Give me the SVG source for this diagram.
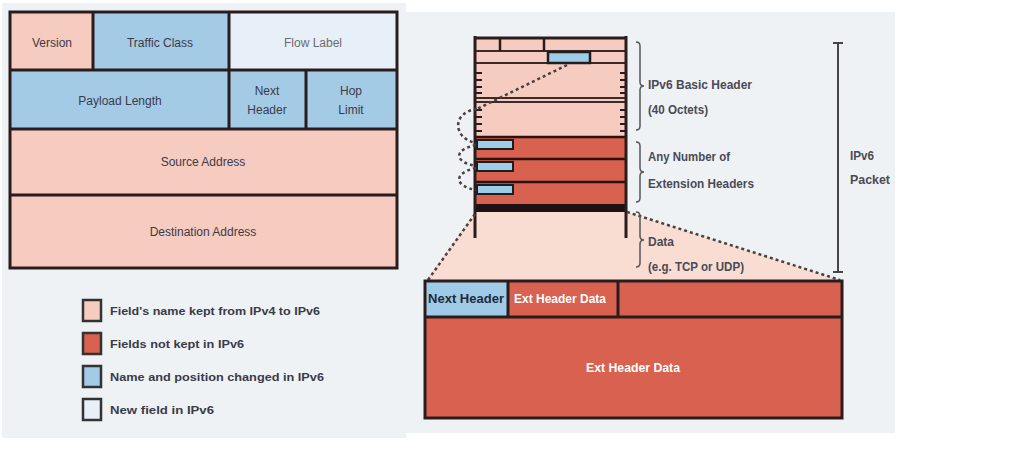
<svg xmlns="http://www.w3.org/2000/svg" width="1032" height="450" viewBox="0 0 1032 450">
<defs>
<style>
.pk{fill:#f6cbc0}
.bl{fill:#a3cbe6}
.lt{fill:#e7f0f8}
.rd{fill:#d9614f}
.ln{stroke:#2a1c1c;stroke-width:3;fill:none}
.t{font-family:"Liberation Sans",Arial,sans-serif;font-size:12px;fill:#3d3a48;text-anchor:middle}
.lg{font-family:"Liberation Sans",Arial,sans-serif;font-size:10.5px;font-weight:bold;fill:#3a3a48}
.rt{font-family:"Liberation Sans",Arial,sans-serif;font-size:12px;font-weight:bold;fill:#4a4a55}
.dot{stroke:#4a4040;stroke-width:2.5;stroke-dasharray:3 3;fill:none}
.br{stroke:#555;stroke-width:1.5;fill:none}
.sq{stroke:#333;stroke-width:2.5}
</style>
</defs>
<rect width="1032" height="450" fill="#ffffff"/>
<rect x="2" y="3" width="404" height="435" fill="#eef2f5"/>
<rect x="406" y="12" width="489" height="421" fill="#eef2f5"/>

<g id="ipv6-header">
  <rect class="pk" x="10" y="12" width="83" height="58"/>
  <rect class="bl" x="93" y="12" width="136" height="58"/>
  <rect class="lt" x="229" y="12" width="168" height="58"/>
  <rect class="bl" x="10" y="70" width="219" height="59"/>
  <rect class="bl" x="229" y="70" width="77" height="59"/>
  <rect class="bl" x="306" y="70" width="91" height="59"/>
  <rect class="pk" x="10" y="129" width="387" height="66"/>
  <rect class="pk" x="10" y="195" width="387" height="73"/>
  <path class="ln" d="M93 12V70M229 12V129M306 70V129M10 70H397M10 129H397M10 195H397"/>
  <rect class="ln" x="10" y="12" width="387" height="256"/>
  <text class="t" x="52" y="47">Version</text>
  <text class="t" x="160" y="47">Traffic Class</text>
  <text class="t" x="313" y="47" style="fill:#6a6a74">Flow Label</text>
  <text class="t" x="120" y="105">Payload Length</text>
  <text class="t" x="267" y="95">Next</text>
  <text class="t" x="267" y="114">Header</text>
  <text class="t" x="351" y="95">Hop</text>
  <text class="t" x="351" y="114">Limit</text>
  <text class="t" x="203" y="166">Source Address</text>
  <text class="t" x="203" y="236">Destination Address</text>
</g>

<g id="legend">
  <rect class="pk sq" x="83" y="300" width="18" height="21"/>
  <rect class="rd sq" x="83" y="333" width="18" height="21"/>
  <rect class="bl sq" x="83" y="366" width="18" height="21"/>
  <rect class="lt sq" x="83" y="399" width="18" height="21"/>
  <text class="lg" x="110" y="315" textLength="210" lengthAdjust="spacingAndGlyphs">Field's name kept from IPv4 to IPv6</text>
  <text class="lg" x="110" y="348" textLength="134" lengthAdjust="spacingAndGlyphs">Fields not kept in IPv6</text>
  <text class="lg" x="110" y="381" textLength="214" lengthAdjust="spacingAndGlyphs">Name and position changed in IPv6</text>
  <text class="lg" x="110" y="414" textLength="104" lengthAdjust="spacingAndGlyphs">New field in IPv6</text>
</g>

<g id="data-region">
  <polygon points="475,212 627,212 840,280 426,280" fill="#f9dcd2"/>
  <rect x="475" y="212" width="152" height="68" fill="#f9dcd2"/>
</g>

<g id="packet-stack">
  <rect class="pk" x="475" y="37" width="151" height="100"/>
  <rect class="rd" x="475" y="137" width="151" height="67"/>
  <rect x="475" y="204" width="151" height="8" fill="#1e1212"/>
  <path d="M475 51H626M475 63H626M475 98H626M475 102H626" stroke="#3a2a2a" stroke-width="2" fill="none"/>
  <path d="M500 37V51M544 37V51" stroke="#2a1c1c" stroke-width="2.5"/>
  <rect x="548" y="52" width="42" height="11" fill="#9fcde8" stroke="#1e1e1e" stroke-width="2.5"/>
  <path d="M475 137H626M475 159H626M475 182H626" stroke="#2a1212" stroke-width="2.5"/>
  <path d="M476 73h6M476 80h6M476 87h6M476 93h6M476 110h6M476 117h6M476 124h6M476 131h6M620 73h6M620 80h6M620 87h6M620 93h6M620 110h6M620 117h6M620 124h6M620 131h6" stroke="#2a1c1c" stroke-width="2"/>
  <rect x="477" y="140" width="36" height="9" fill="#9fcde8" stroke="#1e1e1e" stroke-width="2"/>
  <rect x="477" y="162" width="36" height="9" fill="#9fcde8" stroke="#1e1e1e" stroke-width="2"/>
  <rect x="477" y="185" width="36" height="9" fill="#9fcde8" stroke="#1e1e1e" stroke-width="2"/>
  <path d="M475 36V238M626 36V238M473.5 38H627.5" stroke="#2a1c1c" stroke-width="3" fill="none"/>
</g>

<g id="connectors">
  <path class="dot" d="M567 65L477 109"/>
  <path class="dot" d="M477 109C452 112 452 138 476 143"/>
  <path class="dot" d="M476 145C453 150 454 162 476 166"/>
  <path class="dot" d="M476 168C453 173 454 186 476 190"/>
  <path class="dot" d="M475 214L428 280"/>
  <path class="dot" d="M627 212L840 280"/>
</g>

<g id="labels">
  <path class="br" d="M636 42Q640 42 640 46V82Q640 86 644 86Q640 86 640 90V126Q640 130 636 130"/>
  <path class="br" d="M636 142Q640 142 640 146V168Q640 172 644 172Q640 172 640 176V198Q640 202 636 202"/>
  <path class="br" d="M636 212Q640 212 640 216V236Q640 240 644 240Q640 240 640 244V263Q640 267 636 267"/>
  <text class="rt" x="648" y="89" textLength="104" lengthAdjust="spacingAndGlyphs">IPv6 Basic Header</text>
  <text class="rt" x="648" y="114" textLength="60" lengthAdjust="spacingAndGlyphs">(40 Octets)</text>
  <text class="rt" x="648" y="161" textLength="82" lengthAdjust="spacingAndGlyphs">Any Number of</text>
  <text class="rt" x="648" y="188" textLength="106" lengthAdjust="spacingAndGlyphs">Extension Headers</text>
  <text class="rt" x="648" y="246" textLength="26" lengthAdjust="spacingAndGlyphs">Data</text>
  <text class="rt" x="648" y="271" textLength="96" lengthAdjust="spacingAndGlyphs">(e.g. TCP or UDP)</text>
  <path d="M838 43V272M833 43H843M833 272H843" stroke="#454545" stroke-width="2" fill="none"/>
  <text class="rt" x="850" y="160" textLength="24" lengthAdjust="spacingAndGlyphs">IPv6</text>
  <text class="rt" x="850" y="184" textLength="40" lengthAdjust="spacingAndGlyphs">Packet</text>
</g>

<g id="ext-header">
  <rect class="rd" x="425" y="281" width="417" height="137"/>
  <rect x="425" y="281" width="83" height="36" fill="#9fcbe8"/>
  <path class="ln" d="M508 281V317M618 281V317M425 317H842"/>
  <rect class="ln" x="425" y="281" width="417" height="137"/>
  <text x="466" y="303" font-family="'Liberation Sans',Arial,sans-serif" font-size="12" font-weight="bold" fill="#1f2a3a" text-anchor="middle" textLength="76" lengthAdjust="spacingAndGlyphs">Next Header</text>
  <text x="560" y="303" font-family="'Liberation Sans',Arial,sans-serif" font-size="12" font-weight="bold" fill="#ffffff" text-anchor="middle" textLength="92" lengthAdjust="spacingAndGlyphs">Ext Header Data</text>
  <text x="633" y="372" font-family="'Liberation Sans',Arial,sans-serif" font-size="12" font-weight="bold" fill="#ffffff" text-anchor="middle" textLength="94" lengthAdjust="spacingAndGlyphs">Ext Header Data</text>
</g>
</svg>
